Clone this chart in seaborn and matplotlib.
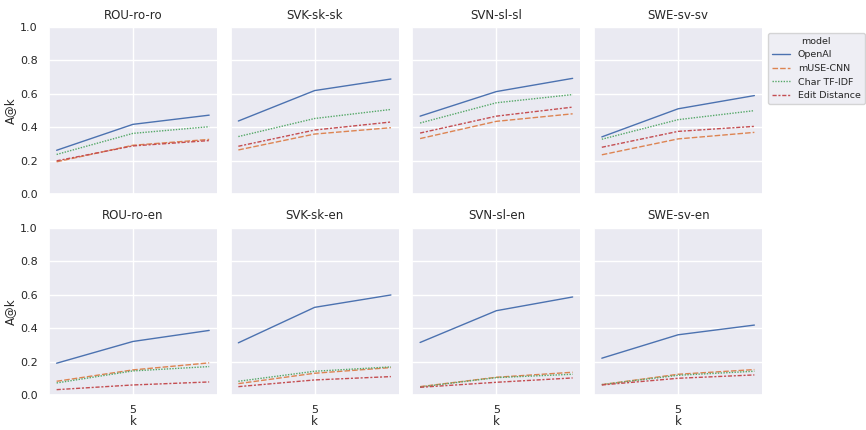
import matplotlib
matplotlib.use("Agg")
import matplotlib.pyplot as plt
import seaborn as sns
import pandas as pd

k_values = [1, 5, 9]
models = ["OpenAI", "mUSE-CNN", "Char TF-IDF", "Edit Distance"]
panels = ["ROU-ro-ro", "SVK-sk-sk", "SVN-sl-sl", "SWE-sv-sv",
          "ROU-ro-en", "SVK-sk-en", "SVN-sl-en", "SWE-sv-en"]

# values per panel: [OpenAI, mUSE-CNN, Char TF-IDF, Edit Distance], each at k_values
rou_ro_ro = [[0.263, 0.418, 0.473], [0.194, 0.293, 0.328], [0.238, 0.364, 0.404], [0.200, 0.289, 0.321]]
svk_sk_sk = [[0.438, 0.620, 0.689], [0.265, 0.360, 0.398], [0.345, 0.453, 0.507], [0.287, 0.384, 0.432]]
svn_sl_sl = [[0.467, 0.614, 0.693], [0.333, 0.436, 0.481], [0.426, 0.547, 0.596], [0.366, 0.467, 0.521]]
swe_sv_sv = [[0.343, 0.511, 0.590], [0.236, 0.331, 0.370], [0.329, 0.446, 0.500], [0.281, 0.376, 0.406]]
rou_ro_en = [[0.190, 0.320, 0.386], [0.082, 0.150, 0.192], [0.072, 0.144, 0.170], [0.032, 0.060, 0.078]]
svk_sk_en = [[0.312, 0.524, 0.598], [0.068, 0.130, 0.164], [0.082, 0.142, 0.168], [0.050, 0.090, 0.110]]
svn_sl_en = [[0.314, 0.504, 0.586], [0.050, 0.106, 0.136], [0.048, 0.104, 0.124], [0.046, 0.076, 0.102]]
swe_sv_en = [[0.220, 0.360, 0.418], [0.062, 0.124, 0.152], [0.062, 0.118, 0.142], [0.060, 0.100, 0.120]]

panel_values = [rou_ro_ro, svk_sk_sk, svn_sl_sl, swe_sv_sv,
                rou_ro_en, svk_sk_en, svn_sl_en, swe_sv_en]

rows = []
for p, vals in zip(panels, panel_values):
    for m, series in zip(models, vals):
        for k, v in zip(k_values, series):
            rows.append({"dataset": p, "model": m, "k": k, "A@k": v})
df = pd.DataFrame(rows)

sns.set_theme(style="darkgrid")
plt.rcParams.update({
    "axes.titlesize": 9,
    "axes.labelsize": 8.5,
    "xtick.labelsize": 8,
    "ytick.labelsize": 8,
    "legend.fontsize": 6.8,
    "legend.title_fontsize": 6.8,
})

g = sns.relplot(data=df, x="k", y="A@k", hue="model", style="model",
                col="dataset", col_wrap=4, col_order=panels,
                hue_order=models, style_order=models,
                kind="line", height=2, aspect=1, linewidth=1.0,
                facet_kws={"sharex": True, "sharey": True})
g.set_titles("{col_name}")
g.set(ylim=(0, 1.0), xticks=[5])
g.figure.set_size_inches(8.66, 4.3)
g.figure.subplots_adjust(left=49/866, right=762/866, top=1-27/430,
                         bottom=1-395/430, wspace=0.083, hspace=0.2)
for ax in g.axes.flat:
    ax.tick_params(axis="x", pad=1.5)
    ax.tick_params(axis="y", pad=2)
    ax.xaxis.labelpad = 0
    ax.yaxis.labelpad = 2
sns.move_legend(g, "upper left", bbox_to_anchor=(763/866, 1-28/430),
                frameon=True, title="model")
g.figure.savefig("out.png", dpi=100)
